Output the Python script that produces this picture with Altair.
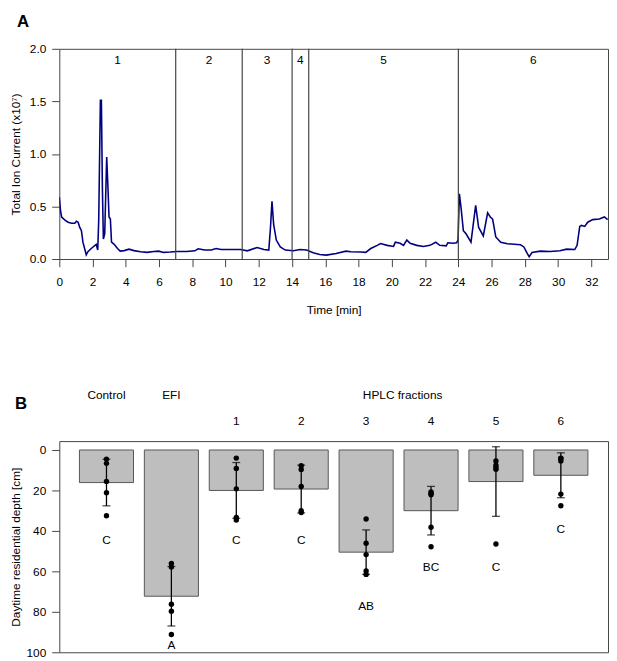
import altair as alt
import pandas as pd

FONT = "Liberation Sans"

# ---------- Panel A: total ion current chromatogram ----------
time_min = [0.0, 0.02, 0.08, 0.14, 0.34, 0.53, 0.73, 0.93, 1.03, 1.13,
            1.23, 1.33, 1.42, 1.62, 1.72, 1.92, 2.22, 2.31, 2.37, 2.47,
            2.53, 2.59, 2.65, 2.73, 2.85, 2.91, 2.99, 3.07, 3.14, 3.30,
            3.50, 3.66, 3.90, 4.19, 4.49, 4.89, 5.28, 5.68, 5.97, 6.27,
            6.67, 7.06, 7.65, 8.15, 8.35, 8.74, 9.14, 9.43, 9.73, 10.32,
            10.91, 11.31, 11.9, 12.3, 12.6, 12.7, 12.79, 12.89, 13.05, 13.29,
            13.59, 14.08, 14.47, 14.87, 15.27, 15.66, 16.06, 16.65, 17.24, 17.54,
            18.13, 18.43, 18.73, 19.12, 19.32, 19.72, 20.1, 20.21, 20.5, 20.7,
            20.9, 21.1, 21.5, 21.9, 22.29, 22.64, 22.88, 23.27, 23.37, 23.67,
            23.9, 23.98, 24.06, 24.16, 24.3, 24.46, 24.76, 25.04, 25.22, 25.5,
            25.76, 25.92, 26.06, 26.25, 26.55, 26.95, 27.35, 27.74, 27.94, 28.14,
            28.26, 28.43, 28.93, 29.52, 30.11, 30.51, 31.0, 31.14, 31.3, 31.4,
            31.6, 31.78, 32.08, 32.48, 32.78, 32.98]
tic = [0.59, 0.55, 0.45, 0.40, 0.37, 0.35, 0.34, 0.34, 0.36, 0.35,
       0.30, 0.27, 0.16, 0.04, 0.07, 0.10, 0.14, 0.085, 0.37, 1.51,
       1.51, 0.68, 0.19, 0.24, 0.97, 0.74, 0.40, 0.38, 0.16, 0.14,
       0.10, 0.075, 0.08, 0.094, 0.08, 0.069, 0.063, 0.072, 0.075, 0.063,
       0.066, 0.072, 0.072, 0.078, 0.097, 0.085, 0.085, 0.10, 0.09, 0.09,
       0.09, 0.078, 0.11, 0.09, 0.085, 0.30, 0.55, 0.33, 0.18, 0.115,
       0.085, 0.078, 0.09, 0.085, 0.059, 0.043, 0.037, 0.053, 0.075, 0.069,
       0.066, 0.063, 0.10, 0.13, 0.147, 0.13, 0.12, 0.16, 0.15, 0.13,
       0.18, 0.15, 0.13, 0.12, 0.13, 0.16, 0.13, 0.125, 0.155, 0.15,
       0.155, 0.18, 0.62, 0.49, 0.27, 0.24, 0.16, 0.51, 0.30, 0.22,
       0.44, 0.40, 0.38, 0.21, 0.16, 0.145, 0.14, 0.135, 0.115, 0.053,
       0.022, 0.062, 0.075, 0.072, 0.078, 0.094, 0.09, 0.13, 0.31, 0.32,
       0.31, 0.35, 0.375, 0.38, 0.40, 0.375]
frac_bounds = [7, 11, 14, 15, 24]
frac_label_x = [3.5, 9, 12.5, 14.5, 19.5, 28.5]
frac_labels = ["1", "2", "3", "4", "5", "6"]
frac_label_y = 1.89
x_ticks = list(range(0, 33, 2))
y_ticks = [0, 0.5, 1.0, 1.5, 2.0]

# ---------- Panel B: daytime residential depth ----------
groups = ["Control", "EFI", "1", "2", "3", "4", "5", "6"]
means = [16.1, 72.3, 20.0, 19.3, 50.5, 30.0, 15.6, 12.5]
sds = [11.5, 14.7, 13.8, 11.8, 11.0, 12.0, 17.2, 11.1]
letters = ["C", "A", "C", "C", "AB", "BC", "C", "C"]
letter_y = [44.5, 96.6, 44.5, 44.5, 76.9, 57.7, 57.7, 39.0]
points = {
    "Control": [4.5, 6.6, 15.6, 21.1, 32.5],
    "EFI": [56.1, 57.9, 76.2, 79.7, 91.2],
    "1": [4.0, 9.1, 19.2, 33.3, 34.6],
    "2": [7.8, 9.6, 18.0, 30.0, 30.9],
    "3": [34.1, 46.1, 51.7, 59.8, 61.5],
    "4": [20.8, 21.5, 22.1, 38.2, 47.8],
    "5": [5.4, 7.5, 8.8, 9.5, 46.5],
    "6": [4.0, 4.2, 5.4, 21.8, 27.6],
}
header_groups = ["Control", "EFI"]
header_y = -27.3
number_groups = ["1", "2", "3", "4", "5", "6"]
number_y = -14.1
hplc_text = "HPLC fractions"
depth_ticks = [0, 20, 40, 60, 80, 100]

BOX = "#444"

# ----- chart A -----
line_df = pd.DataFrame({"t": time_min, "v": tic})
xs = alt.Scale(domain=[0, 33], nice=False, zero=False)
ys = alt.Scale(domain=[0, 2], nice=False, zero=False)

x_axis_a = alt.Axis(values=x_ticks, title="Time [min]", domain=False,
                    labelPadding=10.5, titlePadding=17, tickSize=7.7,
                    labelOverlap=False, labelFlush=False, labelSeparation=0,
                    labelBound=False, format="d")
y_axis_a = alt.Axis(values=y_ticks, format=".1f", title="Total Ion Current (x10⁷)",
                    domain=False, labelPadding=6, titlePadding=7, tickSize=7.7,
                    labelOverlap=False, labelFlush=False)

line = alt.Chart(line_df).mark_line(color="#000080", strokeWidth=1.6, clip=True).encode(
    x=alt.X("t:Q", scale=xs, axis=x_axis_a),
    y=alt.Y("v:Q", scale=ys, axis=y_axis_a),
)
rules = alt.Chart(pd.DataFrame({"b": frac_bounds})).mark_rule(color=BOX, strokeWidth=1.2).encode(
    x=alt.X("b:Q", scale=xs, axis=x_axis_a)
)
flabels = alt.Chart(pd.DataFrame({"x": frac_label_x, "lab": frac_labels})).mark_text(
    fontSize=12, color="black", font=FONT
).encode(x=alt.X("x:Q", scale=xs, axis=x_axis_a), y=alt.datum(frac_label_y), text="lab:N")

chart_a = alt.layer(line, rules, flabels).properties(
    width=556, height=213,
    title=alt.TitleParams("A", anchor="start", frame="group", dx=-43, offset=-1,
                          baseline="alphabetic", fontSize=17, fontWeight="bold",
                          font=FONT, color="black"),
)

# ----- chart B -----
bar_df = pd.DataFrame({
    "g": groups, "mean": means,
    "lo": [m - s for m, s in zip(means, sds)],
    "hi": [m + s for m, s in zip(means, sds)],
    "letter": letters, "ly": letter_y,
})
pts_rows = [{"g": g, "depth": d} for g in groups for d in points[g]]
pts_df = pd.DataFrame(pts_rows)

xb = alt.X("g:N", sort=groups,
           scale=alt.Scale(domain=groups, paddingInner=0.167, paddingOuter=0.31),
           axis=None)
yscale_b = alt.Scale(domain=[-4.4, 100], reverse=True, nice=False, zero=False)
y_axis_b = alt.Axis(values=depth_ticks, title="Daytime residential depth [cm]",
                    domain=False, labelPadding=6, titlePadding=4, tickSize=7.7,
                    labelOverlap=False, labelFlush=False)

bars = alt.Chart(bar_df).mark_bar(fill="#bebebe", stroke="#555", strokeWidth=1).encode(
    x=xb,
    y=alt.Y("mean:Q", scale=yscale_b, axis=y_axis_b),
    y2=alt.datum(0),
)
err = alt.Chart(bar_df).mark_rule(color="black", strokeWidth=1.3).encode(
    x=xb, y=alt.Y("lo:Q", scale=yscale_b, axis=y_axis_b), y2="hi:Q"
)
caps = alt.Chart(bar_df).transform_fold(["lo", "hi"], as_=["k", "val"]).mark_tick(
    color="black", size=8, thickness=1.3
).encode(x=xb, y=alt.Y("val:Q", scale=yscale_b, axis=y_axis_b))
dots = alt.Chart(pts_df).mark_circle(size=30, color="black", opacity=1).encode(
    x=xb, y=alt.Y("depth:Q", scale=yscale_b, axis=y_axis_b)
)
lets = alt.Chart(bar_df).mark_text(fontSize=12, color="black", font=FONT).encode(
    x=xb, y=alt.Y("ly:Q", scale=yscale_b, axis=y_axis_b), text="letter:N"
)
heads = alt.Chart(pd.DataFrame({"g": header_groups})).mark_text(
    fontSize=12, color="black", font=FONT
).encode(x=xb, y=alt.datum(header_y), text="g:N")
nums = alt.Chart(pd.DataFrame({"g": number_groups})).mark_text(
    fontSize=12, color="black", font=FONT
).encode(x=xb, y=alt.datum(number_y), text="g:N")
hplc = alt.Chart(pd.DataFrame({"g": ["3"], "t": [hplc_text]})).mark_text(
    fontSize=12, color="black", font=FONT, dx=37
).encode(x=xb, y=alt.datum(header_y), text="t:N")

chart_b = alt.layer(bars, err, caps, dots, lets, heads, nums, hplc).properties(
    width=556, height=214,
    title=alt.TitleParams("B", anchor="start", frame="group", dx=-45, offset=-37,
                          baseline="alphabetic", fontSize=17, fontWeight="bold",
                          font=FONT, color="black"),
)

chart = alt.vconcat(chart_a, chart_b, spacing=184.5, bounds="flush").properties(
    padding={"left": 0, "top": 0, "right": 0, "bottom": 0}
).configure_axis(
    labelFont=FONT, titleFont=FONT, labelFontSize=12, titleFontSize=12,
    labelColor="black", titleColor="black", titleFontWeight="normal",
    tickColor=BOX, grid=False, tickWidth=1,
).configure_view(stroke=BOX, strokeWidth=1)

chart.save("out.html", embed_options={"renderer": "svg", "actions": False})
